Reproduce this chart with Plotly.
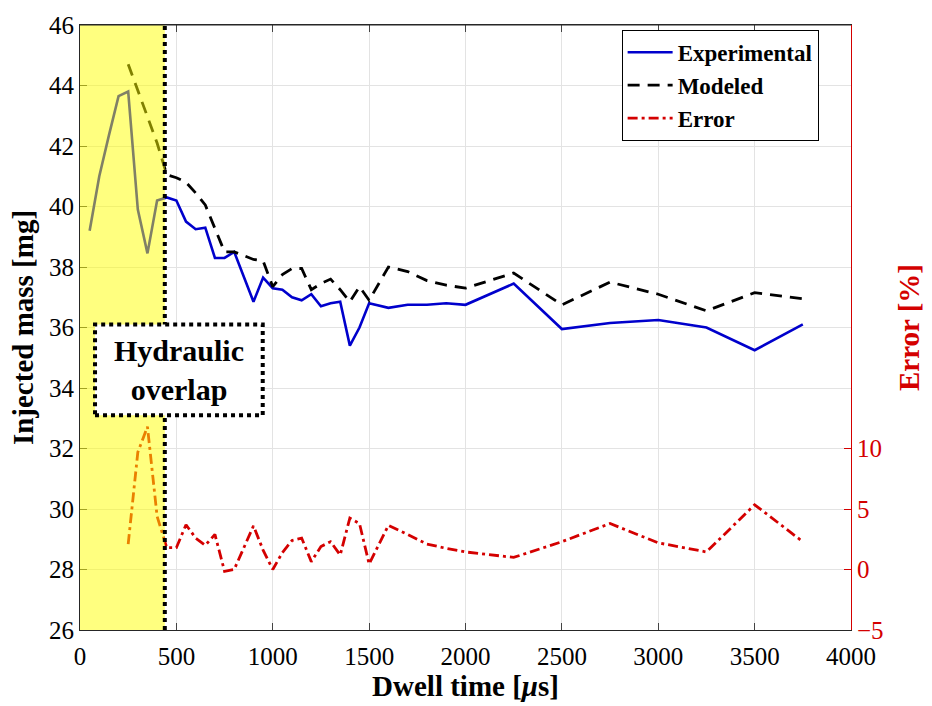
import plotly.graph_objects as go

# Dwell time [µs] and injected mass [mg]
exp_dwell = [50, 100, 150, 200, 250, 300, 350, 400, 450, 500, 550, 600, 650, 700, 750, 800,
             900, 950, 1000, 1050, 1100, 1150, 1200, 1250, 1300, 1350, 1400, 1450, 1500,
             1600, 1700, 1800, 1900, 2000, 2250, 2500, 2750, 3000, 3250, 3500, 3750]
exp_mass = [39.2, 41.0, 42.35, 43.65, 43.8, 39.9, 38.45, 40.2, 40.3, 40.2, 39.5, 39.25, 39.3,
            38.3, 38.3, 38.5, 36.85, 37.65, 37.3, 37.25, 37.0, 36.9, 37.1, 36.7, 36.8, 36.85,
            35.4, 36.0, 36.8, 36.65, 36.75, 36.75, 36.8, 36.75, 37.45, 35.95, 36.15, 36.25,
            36.0, 35.25, 36.1]

mod_dwell = [250, 300, 350, 400, 450, 500, 550, 600, 650, 700, 750, 800, 900, 950, 1000,
             1050, 1100, 1150, 1200, 1250, 1300, 1350, 1400, 1450, 1500, 1600, 1700, 1800,
             1900, 2000, 2250, 2500, 2750, 3000, 3250, 3500, 3750]
mod_mass = [44.7, 43.85, 43.0, 42.1, 41.05, 40.95, 40.8, 40.45, 40.05, 39.3, 38.5, 38.5,
            38.25, 38.2, 37.35, 37.75, 37.95, 37.95, 37.25, 37.45, 37.6, 37.25, 36.85, 37.35,
            36.9, 38.0, 37.85, 37.55, 37.4, 37.3, 37.8, 36.75, 37.5, 37.1, 36.55, 37.15, 36.95]

err_dwell = mod_dwell
err_pct = [2.1, 9.7, 11.8, 4.4, 1.8, 1.8, 3.7, 2.6, 2.0, 2.9, -0.15, 0.0, 3.6, 1.6, 0.0,
           1.4, 2.4, 2.6, 0.65, 1.9, 2.3, 1.2, 4.25, 3.8, 0.45, 3.65, 2.9, 2.1, 1.75, 1.45,
           1.0, 2.3, 3.8, 2.2, 1.45, 5.35, 2.3]

overlap_end = 440
x_ticks = [0, 500, 1000, 1500, 2000, 2500, 3000, 3500, 4000]
mass_ticks = [26, 28, 30, 32, 34, 36, 38, 40, 42, 44, 46]
err_ticks = [-5, 0, 5, 10]

SERIF = "Liberation Serif"
RED = "#d40000"

fig = go.Figure()
fig.add_trace(go.Scatter(x=exp_dwell, y=exp_mass, mode="lines", name="<b>Experimental</b>",
                         line=dict(color="#0000cc", width=2.6)))
fig.add_trace(go.Scatter(x=mod_dwell, y=mod_mass, mode="lines", name="<b>Modeled</b>",
                         line=dict(color="black", width=2.8, dash="12px,8px")))
fig.add_trace(go.Scatter(x=err_dwell, y=err_pct, mode="lines", name="<b>Error</b>", yaxis="y2",
                         line=dict(color=RED, width=2.8, dash="10px,4px,3px,4px")))

# translucent highlight over the hydraulic-overlap region
fig.add_shape(type="rect", xref="x", yref="paper", x0=0, x1=overlap_end, y0=0, y1=1,
              fillcolor="rgba(255,255,0,0.5)", line=dict(width=0), layer="above")
fig.add_shape(type="line", xref="x", yref="paper", x0=overlap_end, x1=overlap_end, y0=0, y1=1,
              line=dict(color="black", width=4, dash="dot"), layer="above")
fig.add_shape(type="rect", xref="x", yref="y", x0=78, x1=948, y0=33.1, y1=36.1,
              fillcolor="white", line=dict(color="black", width=4, dash="dot"), layer="above")
fig.add_annotation(x=513, y=34.6, xref="x", yref="y", text="<b>Hydraulic<br>overlap</b>",
                   showarrow=False, font=dict(family=SERIF, size=30, color="black"))

fig.update_layout(
    width=932, height=706,
    margin=dict(l=80, r=79, t=15, b=76),
    paper_bgcolor="white", plot_bgcolor="white",
    font=dict(family=SERIF, size=25, color="black"),
    showlegend=True,
    legend=dict(x=0.7025, y=0.992, xanchor="left", yanchor="top",
                bgcolor="white", bordercolor="black", borderwidth=1,
                font=dict(family=SERIF, size=23, color="black"),
                tracegroupgap=0, itemwidth=45),
    xaxis=dict(range=[0, 4000], tickvals=x_ticks, ticks="inside", ticklen=7,
               showline=True, linecolor="#262626", linewidth=1, mirror="ticks",
               showgrid=True, gridcolor="#e3e3e3", zeroline=False,
               tickfont=dict(family=SERIF, size=25), ticklabelstandoff=4,
               title=dict(text="<b>Dwell time [<i>μ</i>s]</b>", standoff=2,
                          font=dict(family=SERIF, size=29))),
    yaxis=dict(range=[26, 46], tickvals=mass_ticks, ticks="inside", ticklen=7,
               showline=True, linecolor="#262626", linewidth=1,
               showgrid=True, gridcolor="#e3e3e3", zeroline=False,
               tickfont=dict(family=SERIF, size=25),
               title=dict(text="<b>Injected mass [mg]</b>", standoff=6,
                          font=dict(family=SERIF, size=29))),
    yaxis2=dict(range=[-5, 45], tickvals=err_ticks, overlaying="y", side="right",
                ticks="inside", ticklen=7, showline=True, linecolor=RED, linewidth=1,
                tickcolor=RED, showgrid=False, zeroline=False,
                tickfont=dict(family=SERIF, size=25, color=RED),
                title=dict(text="<b>Error [%]</b>", standoff=16,
                           font=dict(family=SERIF, size=29, color=RED))),
)

# top frame line
fig.add_shape(type="line", xref="paper", yref="paper", x0=0, x1=1, y0=1, y1=1,
              line=dict(color="#262626", width=1), layer="above")

fig.write_html("out.html")
